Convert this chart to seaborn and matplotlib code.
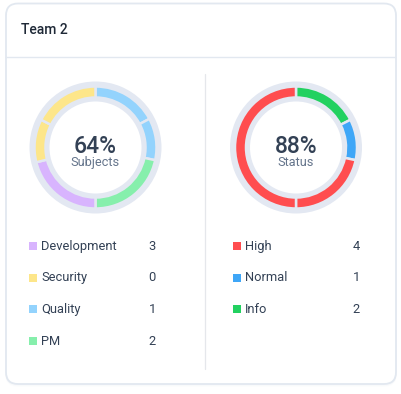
import numpy as np
import pandas as pd
import matplotlib
matplotlib.use("Agg")
import matplotlib.pyplot as plt
import seaborn as sns
from matplotlib.patches import FancyBboxPatch

# dữ liệu
title = "Team 2"

subject_labels = ["Development", "Security", "Quality", "PM"]
subject_counts = [3, 0, 1, 2]
subject_colors = ["#d8b4fe", "#fde68a", "#93d3fd", "#86efac"]
subject_pct = "64%"
subject_name = "Subjects"
# các cung của vòng donut (độ, theo chiều kim đồng hồ từ đỉnh)
subject_arcs = [62, 40, 78, 76, 41, 63]
subject_arc_colors = ["#93d3fd", "#93d3fd", "#86efac", "#d8b4fe", "#fde68a", "#fde68a"]

status_labels = ["High", "Normal", "Info"]
status_counts = [4, 1, 2]
status_colors = ["#ff4d4f", "#3ea6f7", "#22d160"]
status_pct = "88%"
status_name = "Status"
status_arcs = [63, 39, 78, 180]
status_arc_colors = ["#22d160", "#3ea6f7", "#ff4d4f", "#ff4d4f"]

W, H = 402, 394
track = "#e3e8f2"
dark = "#334155"
grey = "#64748b"

sns.set_theme(style="white")
plt.rcParams['font.family'] = ['Roboto', 'DejaVu Sans']

fig = plt.figure(figsize=(W / 100, H / 100), dpi=100)
fig.patch.set_facecolor("white")
ax = fig.add_axes([0, 0, 1, 1])
ax.set_xlim(0, W)
ax.set_ylim(H, 0)
ax.axis("off")

# khung thẻ + bóng mờ nhẹ
for k, a in [(2, 0.06), (1, 0.1)]:
    ax.add_patch(FancyBboxPatch((6, 3.5 + k), 390, 380.5, boxstyle="round,pad=0,rounding_size=12",
                                facecolor="none", edgecolor="#cbd5e1", lw=1.0, alpha=a))
ax.add_patch(FancyBboxPatch((6, 3.5), 390, 380.5, boxstyle="round,pad=0,rounding_size=12",
                            facecolor="white", edgecolor="#e2e8f0", lw=1.3))
ax.text(21.5, 34, title, fontsize=10, fontweight="medium", color="#1f2937", va="baseline")
ax.plot([6.5, 395.5], [57.3, 57.3], color="#e2e8f0", lw=1)
ax.plot([205.5, 205.5], [74, 369], color="#e5e7eb", lw=0.9)


def donut(cx, cy, arcs, colors, pct, name):
    R = 66
    d = fig.add_axes([(cx - R) / W, 1 - (cy + R) / H, 2 * R / W, 2 * R / H])
    d.pie([1], radius=1, colors=[track], wedgeprops=dict(width=20 / R, lw=0))
    d.pie(arcs, radius=61 / R, colors=colors, startangle=90, counterclock=False,
          wedgeprops=dict(width=11 / R, edgecolor=track, lw=1.8))
    d.set_xlim(-1, 1)
    d.set_ylim(-1, 1)
    d.set_aspect("equal")
    d.axis("off")
    ax.text(cx, 152.8, pct, fontsize=16.5, fontweight="medium", color=dark, ha="center", va="baseline")
    ax.text(cx, 165.5, name, fontsize=9.2, color=grey, ha="center", va="baseline")


donut(95.5, 147.5, subject_arcs, subject_arc_colors, subject_pct, subject_name)
donut(296, 147.5, status_arcs, status_arc_colors, status_pct, status_name)


def legend(x_sq, x_val, labels, counts, colors):
    df = pd.DataFrame({"label": labels, "count": counts})
    df["y"] = 246 + np.arange(len(df)) * 31.7
    df["x"] = x_sq
    sns.scatterplot(data=df, x="x", y="y", hue="label", palette=colors, marker="s",
                    s=33, linewidth=0, legend=False, ax=ax, zorder=3)
    for _, r in df.iterrows():
        ax.text(x_sq + 8, r["y"], r["label"], fontsize=9.3, color=dark, va="center")
        ax.text(x_val, r["y"], str(r["count"]), fontsize=9.3, color=dark, va="center")


legend(33, 148.5, subject_labels, subject_counts, subject_colors)
legend(237, 352.5, status_labels, status_counts, status_colors)

ax.set_xlim(0, W)
ax.set_ylim(H, 0)
ax.axis("off")
fig.savefig("out.png", dpi=100, facecolor="white")
